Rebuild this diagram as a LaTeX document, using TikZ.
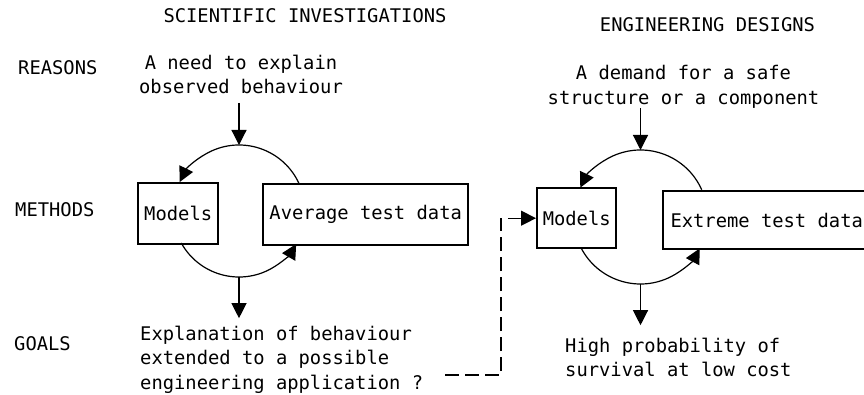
\documentclass[tikz,border=0pt]{standalone}
\usepackage{fontspec}
\setmonofont{DejaVu Sans Mono}
\usetikzlibrary{arrows.meta,calc}
\begin{document}
\begin{tikzpicture}[x=1pt,y=-1pt,
  every node/.style={font=\ttfamily\fontsize{18.8}{24.5}\selectfont, inner sep=0pt},
  box/.style={draw, line width=2.4pt, anchor=north west},
  conn/.style={line width=1.2pt, -{Triangle[length=15pt,width=15pt]}},
  dashconn/.style={conn, dash pattern=on 14pt off 6pt},
  lbl/.style={anchor=base west},
]
\path[use as bounding box, fill=white] (0,0) rectangle (864,395);
\clip (0,0) rectangle (864,395);

% titles and row labels
\node[anchor=base] (ti1) at (305,23) {SCIENTIFIC INVESTIGATIONS};
\node[anchor=base] (ti2) at (707.5,32) {ENGINEERING DESIGNS};
\node[lbl] (lr) at (18,75) {REASONS};
\node[lbl] (lm) at (15,217) {METHODS};
\node[lbl] (lg) at (14,350) {GOALS};

% left cycle
\node[align=center, anchor=south] (r1) at (241,94) {A need to explain\\observed behaviour};
\node[box, minimum width=80pt, minimum height=61pt] (m1) at (137,182) {Models};
\node[box, minimum width=205pt, minimum height=61pt] (d1) at (262,183) {Average test data};
\node[align=left, anchor=north west] (g1) at (140,325.7) {Explanation of behaviour\\extended to a possible\\engineering application ?};
\coordinate (c1) at (239,211);
\coordinate (t1) at ($(c1)+(0,-66)$);
\coordinate (b1) at ($(c1)+(0,66)$);
\draw[conn, shorten <=9pt] (t1 |- r1.south) -- (t1);
\draw[conn] ($(c1)+(-24:66)$) arc[start angle=-24, end angle=-154, radius=66];
\draw[conn] ($(c1)+(151:66)$) arc[start angle=151, end angle=30, radius=66];
\draw[conn, shorten >=7.5pt] (b1) -- (b1 |- g1.north);

% right cycle
\node[align=center, anchor=south] (r2) at (683.5,108.5) {A demand for a safe\\structure or a component};
\node[box, minimum width=79pt, minimum height=60pt] (m2) at (536,187) {Models};
\node[box, minimum width=207pt, minimum height=58pt] (d2) at (662,190) {Extreme test data};
\node[align=left, anchor=north west] (g2) at (565,337.7) {High probability of\\survival at low cost};
\coordinate (c2) at (640.5,217);
\coordinate (t2) at ($(c2)+(0,-67)$);
\coordinate (b2) at ($(c2)+(0,67)$);
\draw[conn] (t2 |- r2.south) -- (t2);
\draw[conn] ($(c2)+(-24:67)$) arc[start angle=-24, end angle=-154, radius=67];
\draw[conn] ($(c2)+(153:67)$) arc[start angle=153, end angle=28, radius=67];
\draw[conn, shorten >=12.5pt] (b2) -- (b2 |- g2.north);

% dashed link
\coordinate (d0) at (445,375);
\draw[dashconn] (d0) -- ++(56,0) |- (m2.west);
\end{tikzpicture}
\end{document}
